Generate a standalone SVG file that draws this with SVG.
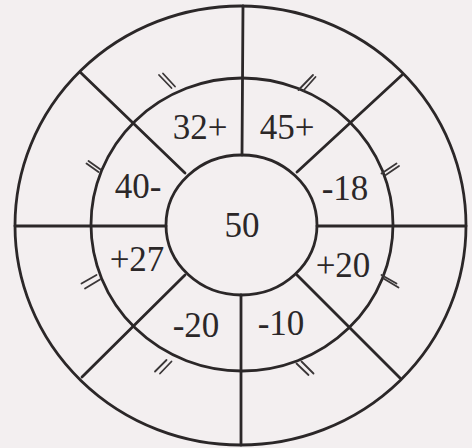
<svg xmlns="http://www.w3.org/2000/svg" width="472" height="448" viewBox="0 0 472 448">
<style>
.ln{fill:none;stroke:#2b2728;stroke-width:2.8;stroke-linecap:round}
.tk{fill:none;stroke:#3a3637;stroke-width:1.8;stroke-linecap:round}
.t{font-family:"Liberation Serif","Times New Roman",serif;font-size:35px;fill:#2b2728;text-anchor:middle}
</style>
<rect width="472" height="448" fill="#f3eff0"/>
<g id="rings">
<ellipse class="ln" cx="240.5" cy="225.5" rx="225.5" ry="219.5"/>
<ellipse class="ln" cx="242" cy="224.5" rx="151" ry="146.5"/>
<ellipse class="ln" cx="241.5" cy="225" rx="75.5" ry="70"/>
</g>
<g id="connectors">
<line class="ln" x1="243" y1="6" x2="242" y2="155"/>
<line class="ln" x1="241" y1="295" x2="241" y2="445"/>
<line class="ln" x1="15" y1="226" x2="166" y2="226"/>
<line class="ln" x1="317" y1="226" x2="466" y2="226"/>
<line class="ln" x1="80" y1="72" x2="185" y2="173"/>
<line class="ln" x1="402" y1="75" x2="297" y2="172"/>
<line class="ln" x1="82" y1="377" x2="185" y2="275"/>
<line class="ln" x1="400" y1="378" x2="297" y2="275"/>
</g>
<g id="ticks">
<path class="tk" d="M159,75 L171.5,88 M163,73.5 L175,86.5"/>
<path class="tk" d="M298.5,90 L313,75 M303.5,90.5 L315.5,77"/>
<path class="tk" d="M86.5,163.5 L98.5,172 M88.5,161 L100.5,169.5"/>
<path class="tk" d="M381.5,173.5 L396.5,163.5 M385,175.5 L399,166"/>
<path class="tk" d="M81.5,283.5 L96.5,275 M85,288.5 L100,279.5"/>
<path class="tk" d="M381.5,275 L396.5,283.5 M383.5,278.5 L398.5,287.5"/>
<path class="tk" d="M155,371.5 L166.5,360 M160,373.5 L171.5,361.5"/>
<path class="tk" d="M296.5,363.5 L308.5,375 M301.5,361.5 L313.5,373.5"/>
</g>
<g id="n-32"><text class="t" x="200" y="139">32+</text></g>
<g id="n-45"><text class="t" x="287" y="139">45+</text></g>
<g id="n-40"><text class="t" x="138" y="198">40-</text></g>
<g id="n-18"><text class="t" x="345" y="200">-18</text></g>
<g id="n-50"><text class="t" x="242" y="237">50</text></g>
<g id="n-27"><text class="t" x="137" y="271">+27</text></g>
<g id="n-20p"><text class="t" x="343" y="277">+20</text></g>
<g id="n-20m"><text class="t" x="196" y="337">-20</text></g>
<g id="n-10"><text class="t" x="281" y="335">-10</text></g>
</svg>
